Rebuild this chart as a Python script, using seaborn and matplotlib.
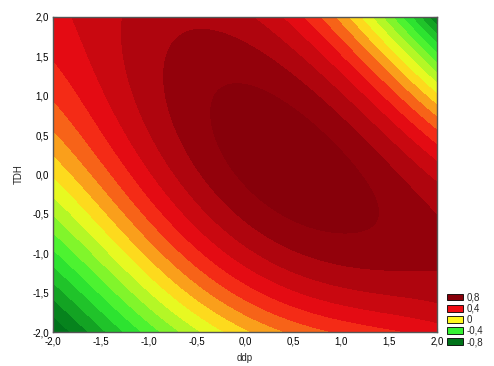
import numpy as np
import pandas as pd
import seaborn as sns
import matplotlib
matplotlib.use("Agg")
import matplotlib.pyplot as plt
from matplotlib.colors import LinearSegmentedColormap, Normalize
from matplotlib.patches import Patch
from matplotlib.ticker import FuncFormatter, MultipleLocator

# ---- data (surface values on a coarse grid) ----
grid_x = [-2.0, -1.0, 0.0, 1.0, 2.0]           # ddp
grid_y = [2.0, 1.0, 0.0, -1.0, -2.0]           # TDH (rows, top to bottom)
z_y2 = [0.45, 0.61, 0.65, 0.22, -0.85]
z_y1 = [0.40, 0.66, 0.72, 0.56, 0.06]
z_y0 = [-0.08, 0.53, 0.84, 0.80, 0.62]
z_ym1 = [-0.45, 0.16, 0.65, 0.71, 0.66]
z_ym2 = [-0.85, -0.42, 0.03, 0.36, 0.45]

legend_values = [0.8, 0.4, 0.0, -0.4, -0.8]
legend_labels = ["0,8", "0,4", "0", "-0,4", "-0,8"]
x_label = "ddp"
y_label = "TDH"

# ---- smooth fitted surface (least squares, polynomial of total degree 4) ----
Z = np.array([z_y2, z_y1, z_y0, z_ym1, z_ym2])
GX, GY = np.meshgrid(grid_x, grid_y)
df = pd.DataFrame({"x": GX.ravel(), "y": GY.ravel(), "z": Z.ravel()})
terms = [(i, j) for i in range(5) for j in range(5) if i + j <= 4]
A = np.column_stack([df.x ** i * df.y ** j for i, j in terms])
coef, *_ = np.linalg.lstsq(A, df.z.values, rcond=None)

xs = np.linspace(-2, 2, 260)
ys = np.linspace(-2, 2, 260)
XX, YY = np.meshgrid(xs, ys)
ZZ = sum(c * XX ** i * YY ** j for c, (i, j) in zip(coef, terms))

# ---- style ----
sns.set_theme(style="white")
plt.rcParams["font.family"] = ["Liberation Sans", "DejaVu Sans"]

cmap = LinearSegmentedColormap.from_list(
    "stat",
    [(0.0, (0.0, 0.45, 0.10)),
     (0.25, (0.20, 0.95, 0.20)),
     (0.5, (1.0, 0.98, 0.12)),
     (0.75, (0.95, 0.05, 0.08)),
     (1.0, (0.53, 0.0, 0.04))])
norm = Normalize(vmin=-0.8, vmax=0.8)

levels = np.round(np.arange(-1.3, 1.11, 0.1), 2)
band_colors = [cmap(norm(np.clip((a + b) / 2, -0.8, 0.8)))
               for a, b in zip(levels[:-1], levels[1:])]

fig = plt.figure(figsize=(4.94, 3.66), dpi=100)
ax = fig.add_axes([53 / 494, 1 - 332 / 366, 384 / 494, 315 / 366])
cs = ax.contourf(XX, YY, ZZ, levels=levels, colors=band_colors,
                 extend="both")
cs.set_edgecolor("face")
cs.set_linewidth(0.4)
ax.set_xlim(-2, 2)
ax.set_ylim(-2, 2)

fmt = FuncFormatter(lambda v, p: f"{v:.1f}".replace(".", ","))
ax.xaxis.set_major_locator(MultipleLocator(0.5))
ax.yaxis.set_major_locator(MultipleLocator(0.5))
ax.xaxis.set_major_formatter(fmt)
ax.yaxis.set_major_formatter(fmt)
ax.tick_params(direction="in", length=3, width=0.8, colors="#555555",
               labelcolor="black", labelsize=7, top=True, right=True,
               bottom=True, left=True, pad=3)
for s in ax.spines.values():
    s.set_color("#555555")
    s.set_linewidth(1.0)

ax.set_xlabel(x_label, fontsize=7, labelpad=5)
ax.set_ylabel(y_label, fontsize=7, labelpad=6)

handles = [Patch(facecolor=cmap(norm(v)), edgecolor="black", linewidth=0.6,
                 label=l) for v, l in zip(legend_values, legend_labels)]
fig.legend(handles=handles, loc="lower left",
           bbox_to_anchor=(446 / 494, 1 - 348 / 366),
           frameon=False, fontsize=7, handlelength=1.6, handleheight=0.7,
           handletextpad=0.4, labelspacing=0.12, borderaxespad=0,
           borderpad=0.1)

fig.savefig("out.png", dpi=100)
